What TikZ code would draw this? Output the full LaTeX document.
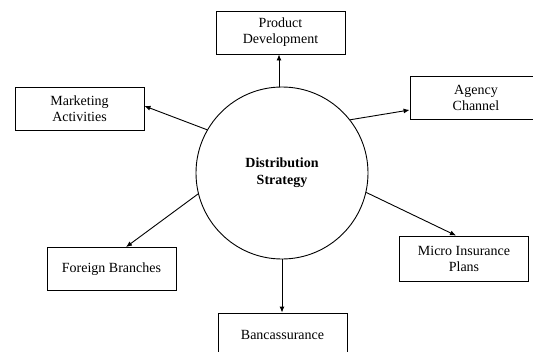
\documentclass[tikz,border=0pt]{standalone}
\usepackage{fontspec}
\setmainfont{Liberation Serif}
\usetikzlibrary{arrows.meta}
\begin{document}
\begin{tikzpicture}[x=1pt,y=-1pt,
  box/.style={draw,line width=0.9pt,minimum width=129pt,minimum height=43pt,align=center,inner sep=0pt,font=\fontsize{14}{16}\selectfont},
  hub/.style={draw,circle,line width=0.9pt,minimum size=172pt,inner sep=0pt,align=center,font=\fontsize{14}{17}\selectfont\bfseries},
  arr/.style={line width=0.9pt,-{Latex[length=6pt,width=5pt]}}]
\useasboundingbox (0,0) rectangle (533,351);
\clip (0,0) rectangle (533,351);
\fill[white] (0,0) rectangle (533,351);
\node[hub] (c) at (282,173) {Distribution\\Strategy};
\node[box] (pd) at (280.5,32.5) {Product\\Development};
\node[box] (ma) at (79.5,109) {Marketing\\Activities};
\node[box,minimum width=132pt] (ag) at (476,98) {Agency\\Channel};
\node[box] (fb) at (111.5,269) {Foreign Branches};
\node[box,minimum height=45pt] (mi) at (464,258.5) {Micro Insurance\\Plans};
\node[box] (ba) at (282.5,334.5) {Bancassurance};
\draw[arr] ([xshift=-3pt]c.90) -- ([xshift=-3pt]c.90 |- pd.south);
\draw[arr] (c.150) -- ([yshift=3pt]ma.east);
\draw[arr] (c.38) -- ([yshift=-12pt]ag.west);
\draw[arr] (c.194) -- ([xshift=14.5pt]fb.north);
\draw[arr] (c.-13) -- ([xshift=-8pt]mi.north);
\draw[arr] (c.270) -- (c.270 |- ba.north);
\end{tikzpicture}
\end{document}
